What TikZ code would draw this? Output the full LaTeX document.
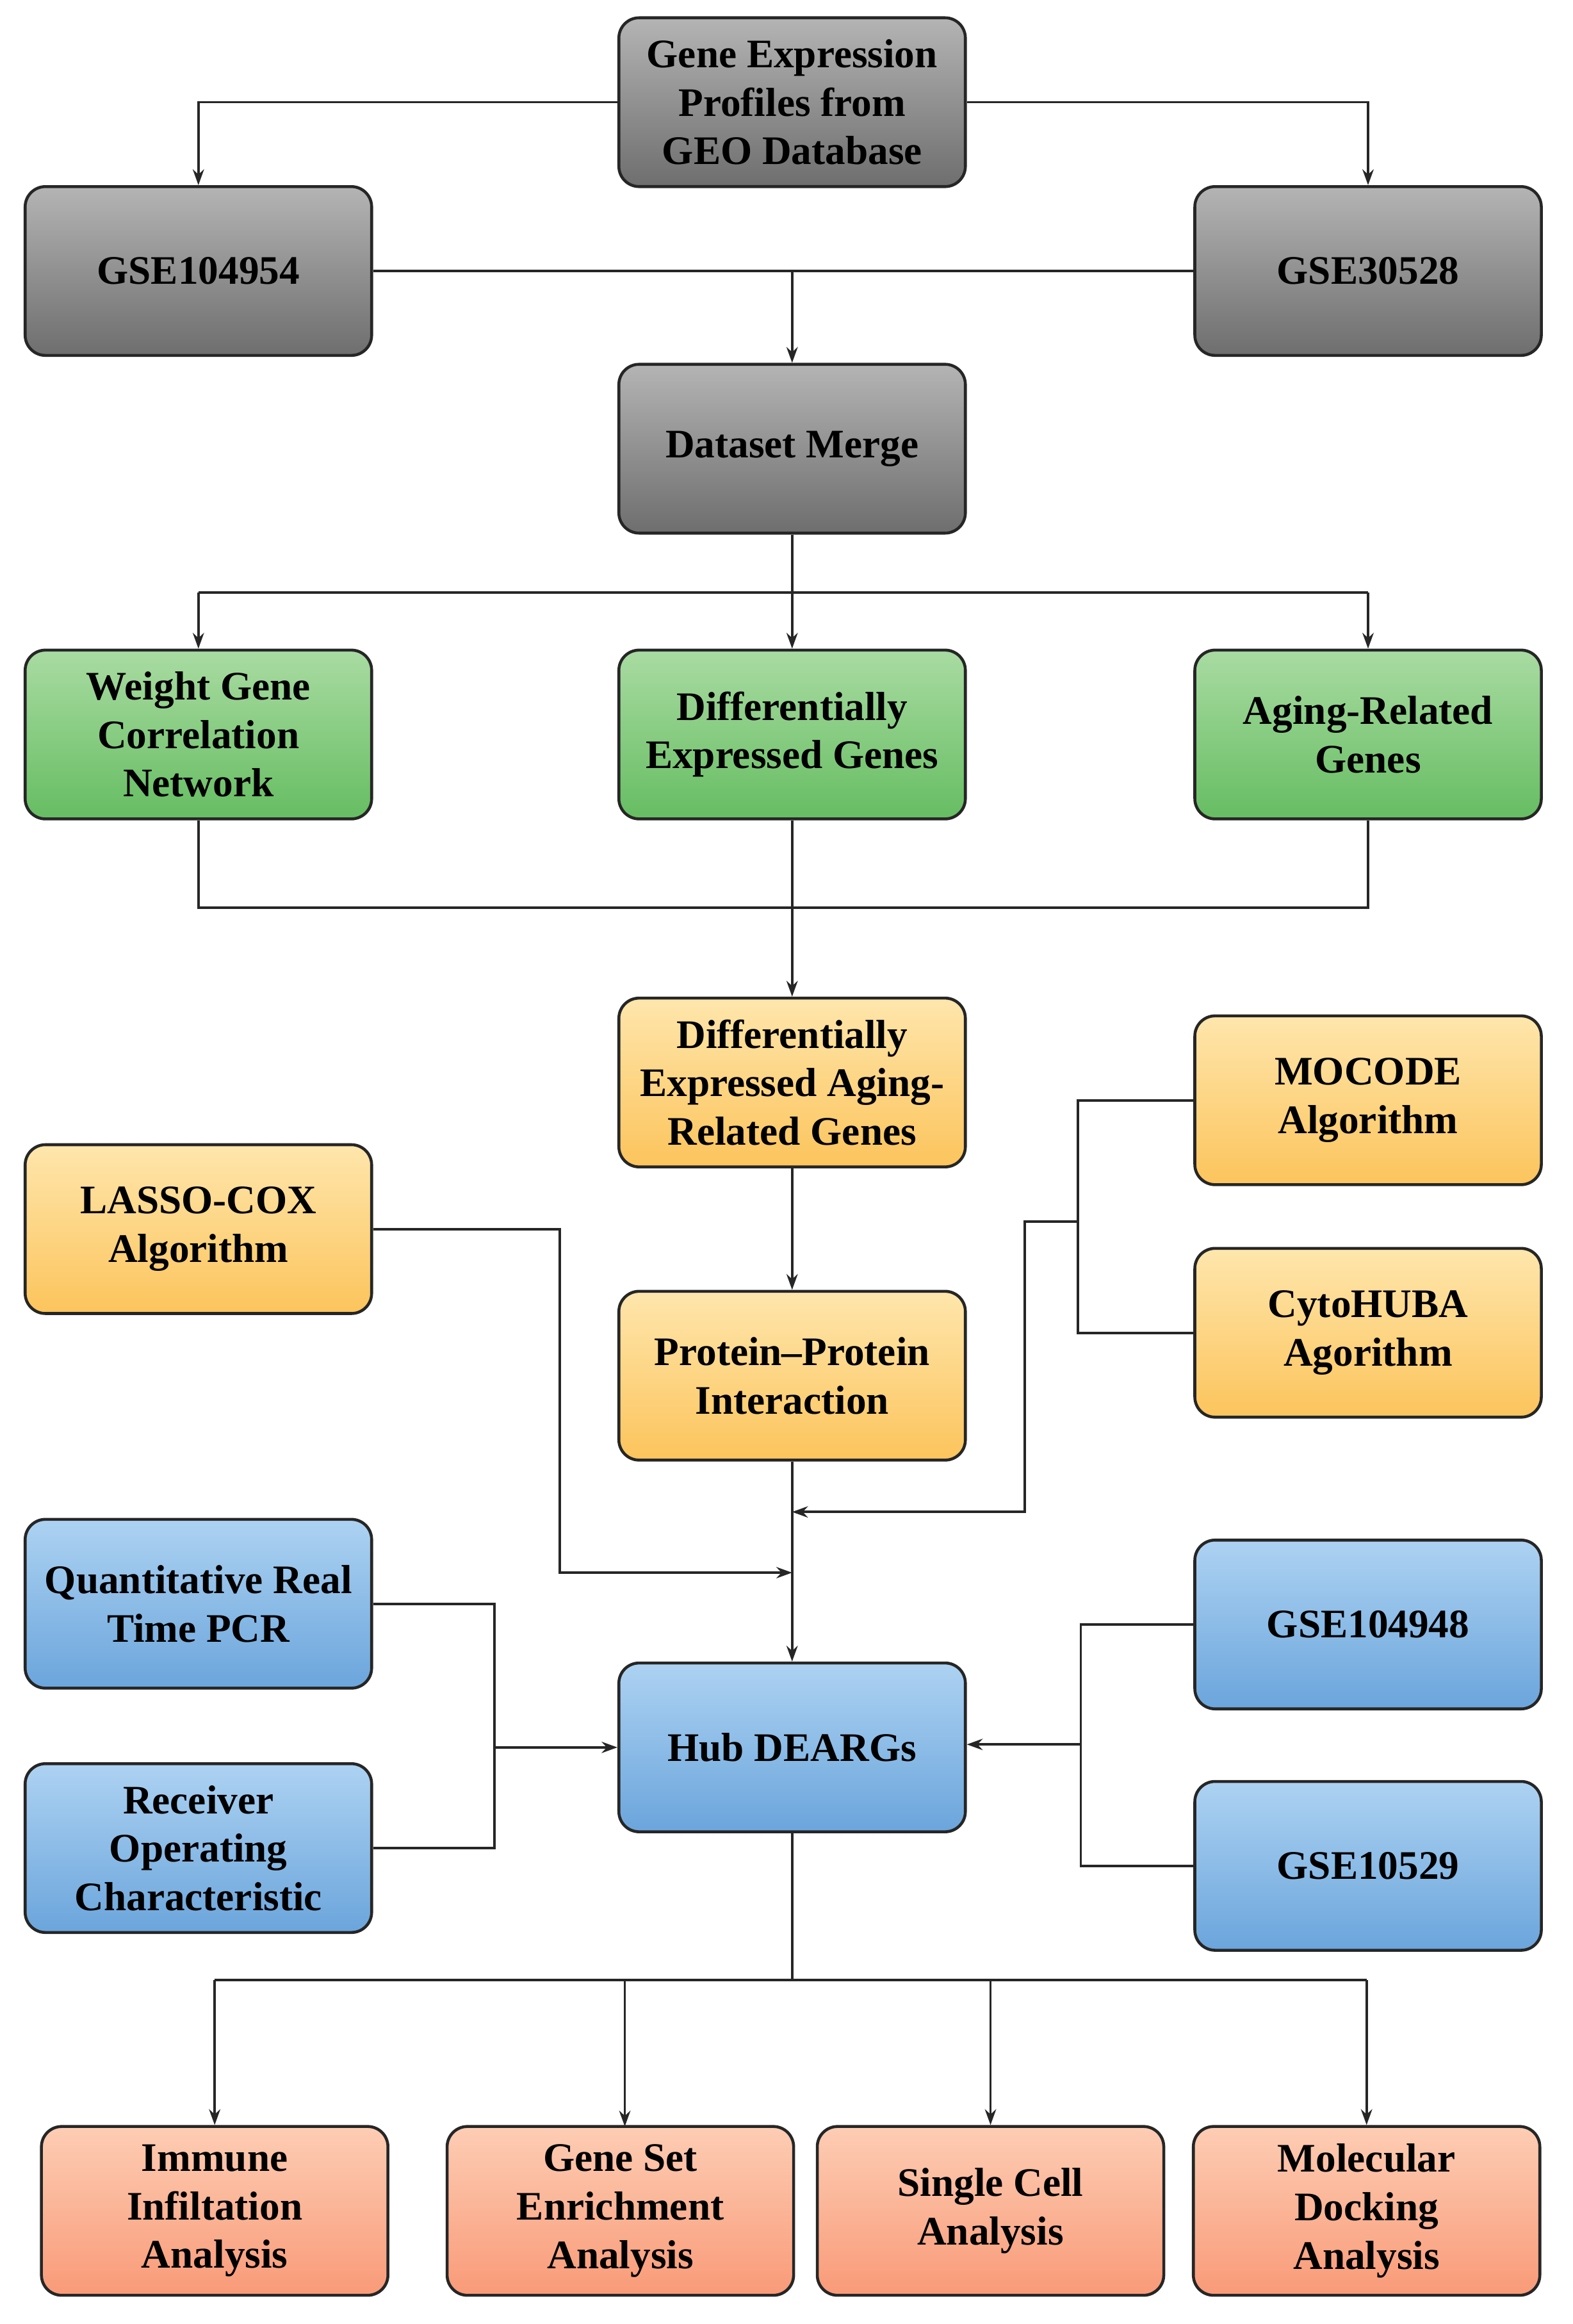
\documentclass[tikz,border=0pt]{standalone}
\usepackage{fontspec}
\setmainfont{Liberation Serif}
\usetikzlibrary{arrows.meta,calc}
\definecolor{grT}{HTML}{B4B4B4}\definecolor{grB}{HTML}{6E6E6E}
\definecolor{gnT}{HTML}{A9DBA2}\definecolor{gnB}{HTML}{66BD62}
\definecolor{orT}{HTML}{FEE6AC}\definecolor{orB}{HTML}{FCC45C}
\definecolor{blT}{HTML}{ADD2F2}\definecolor{blB}{HTML}{6BA5DC}
\definecolor{saT}{HTML}{FDCDB4}\definecolor{saB}{HTML}{F99A78}
\tikzset{
 box/.style={draw=black!85, line width=1.3pt, rounded corners=9pt, minimum width=5.41cm, minimum height=2.635cm, align=center, font=\fontsize{18}{21.5}\selectfont\bfseries, inner sep=2pt},
 gray/.style={box, top color=grT, bottom color=grB},
 green/.style={box, top color=gnT, bottom color=gnB},
 orange/.style={box, top color=orT, bottom color=orB},
 blue/.style={box, top color=blT, bottom color=blB},
 salmon/.style={box, top color=saT, bottom color=saB},
 ln/.style={draw=black!85, line width=1.1pt},
 ar/.style={ln, -{Stealth[length=7pt,width=5pt]}}
}
\begin{document}
\begin{tikzpicture}[x=0.02311cm,y=-0.02311cm]
\useasboundingbox (0,0) rectangle (1062,1569.4);
\node[gray] (geo) at (535,69) {Gene Expression\\Profiles from\\GEO Database};
\node[gray] (g1) at (134,183) {GSE104954};
\node[gray] (g2) at (924,183) {GSE30528};
\node[gray] (dm) at (535,303) {Dataset Merge};
\node[green] (w) at (134,496) {Weight Gene\\Correlation\\Network};
\node[green] (deg) at (535,496) {Differentially\\Expressed Genes};
\node[green] (arg) at (924,496) {Aging-Related\\Genes};
\node[orange] (dea) at (535,731) {Differentially\\Expressed Aging-\\Related Genes};
\node[orange] (moc) at (924,743) {MOCODE\\Algorithm};
\node[orange] (cyt) at (924,900) {CytoHUBA\\Agorithm};
\node[orange] (las) at (134,830) {LASSO-COX\\Algorithm};
\node[orange] (ppi) at (535,929) {Protein--Protein\\Interaction};
\node[blue] (qp) at (134,1083) {Quantitative Real\\Time PCR};
\node[blue] (roc) at (134,1248) {Receiver\\Operating\\Characteristic};
\node[blue] (hub) at (535,1180) {Hub DEARGs};
\node[blue] (s1) at (924,1097) {GSE104948};
\node[blue] (s2) at (924,1260) {GSE10529};
\node[salmon] (b1) at (145,1493) {Immune\\Infiltation\\Analysis};
\node[salmon] (b2) at (419,1493) {Gene Set\\Enrichment\\Analysis};
\node[salmon] (b3) at (669,1493) {Single Cell\\Analysis};
\node[salmon] (b4) at (923,1493) {Molecular\\Docking\\Analysis};
% top
\draw[ar] (geo.west) -| (g1.north);
\draw[ar] (geo.east) -| (g2.north);
\draw[ln] (g1.east) -- (g2.east -| g2.west);
\coordinate (j1) at (535,183);
\draw[ar] (j1) -- (dm.north);
\coordinate (j2) at (535,400);
\draw[ln] (dm.south) -- (j2);
\draw[ln] (134,400) -- (924,400);
\draw[ar] (j2) -- (deg.north);
\draw[ar] (134,400) -- (w.north);
\draw[ar] (924,400) -- (arg.north);
\coordinate (j3) at (535,613);
\draw[ln] (w.south) |- (j3) -| (arg.south);
\draw[ln] (deg.south) -- (j3);
\draw[ar] (j3) -- (dea.north);
\draw[ar] (dea.south) -- (ppi.north);
% MOCODE/Cyto
\coordinate (m1) at (728,743);
\coordinate (m2) at (728,825);
\draw[ln] (moc.west) -- (m1) |- (cyt.west);
\coordinate (j4) at (535,1021);
\draw[ar] (m2) -- (692,825) |- (j4);
% LASSO
\coordinate (j5) at (535,1062);
\draw[ar] (las.east) -- (378,830) |- (j5);
\draw[ar] (ppi.south) -- (hub.north);
% left blue
\coordinate (l1) at (334,1180);
\draw[ln] (qp.east) -| (l1) |- (roc.east);
\draw[ar] (l1) -- (hub.west);
% right blue
\coordinate (r1) at (730,1178);
\draw[ln] (s1.west) -| (r1) |- (s2.west);
\draw[ar] (r1) -- (hub.east |- r1);
% bottom
\coordinate (j6) at (535,1337);
\draw[ln] (hub.south) -- (j6);
\draw[ln] (145,1337) -- (923,1337);
\draw[ar] (145,1337) -- (b1.north);
\draw[ar] (422,1337) -- (422,1436);
\draw[ar] (669,1337) -- (b3.north);
\draw[ar] (923,1337) -- (b4.north);
\end{tikzpicture}
\end{document}
